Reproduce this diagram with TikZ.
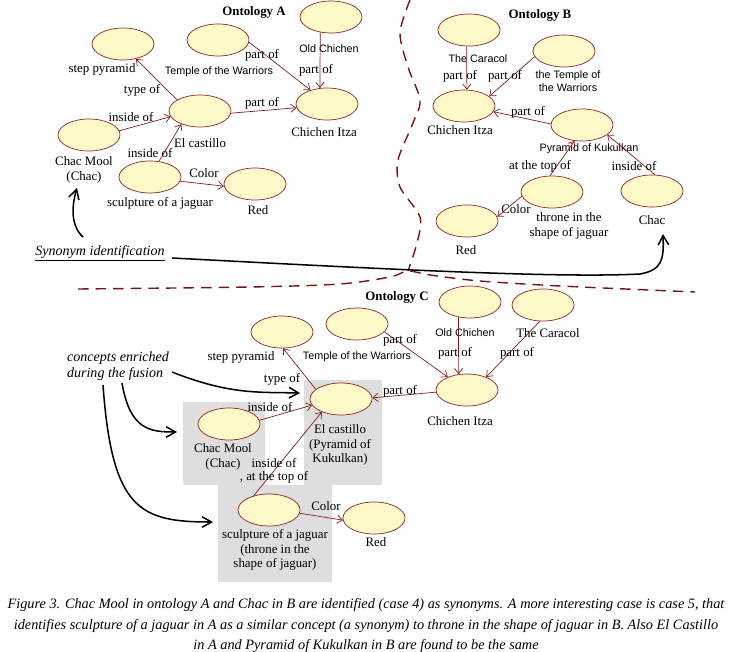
\documentclass[tikz,border=0pt]{standalone}
\usepackage{fontspec}
\setmainfont{Liberation Serif}
\newfontfamily\arialfont{Liberation Sans}
\usetikzlibrary{shapes.geometric,arrows.meta}
\definecolor{ellfill}{RGB}{255,248,200}
\definecolor{ellline}{RGB}{140,40,40}
\definecolor{relline}{RGB}{128,30,30}
\definecolor{sepline}{RGB}{120,20,20}
\definecolor{boxgrey}{RGB}{222,222,222}

\begin{document}
\begin{tikzpicture}[x=0.03cm,y=-0.03cm,
  concept/.style={ellipse,draw=ellline,fill=ellfill,line width=0.6pt,minimum width=1.86cm,minimum height=0.96cm,inner sep=0pt},
  lbl/.style={font=\fontsize{11}{12.5}\selectfont,align=center,inner sep=0pt},
  albl/.style={font=\arialfont\fontsize{9.2}{11}\selectfont,align=center,inner sep=0pt},
  title/.style={font=\fontsize{11}{12}\selectfont\bfseries,inner sep=0pt},
  note/.style={font=\fontsize{12}{14}\selectfont\itshape,align=left,inner sep=0pt},
  rel/.style={draw=relline,line width=0.6pt,-{Straight Barb[length=4.5pt,width=7pt]}},
  hand/.style={draw=black,line width=1.3pt,-{Straight Barb[length=8pt,width=9pt]}},
  sep/.style={draw=sepline,line width=1.2pt,dash pattern=on 9pt off 6pt},
  greybox/.style={fill=boxgrey,draw=none}]
\useasboundingbox (0,0) rectangle (731,652);

% grey boxes of the merged concepts
\fill[boxgrey] (304,380) rectangle (382,485);
\fill[boxgrey] (183,402) rectangle (265,485);
\fill[boxgrey] (218,485) rectangle (332,582);

% separators
\draw[sep] plot[smooth] coordinates {(410,0) (400,33) (408,67) (420,100) (413,123) (398,160) (400,187) (420,217) (417,243) (408,271)};
\draw[sep] plot[smooth] coordinates {(78,289) (250,287) (340,284) (390,277) (408,271) (430,275) (480,281) (560,286) (695,292)};

% Ontology A
\node[title] (ontA) at (254,12) {Ontology A};
\node[concept] (oldA) at (331,17) {};
\node[concept] (templA) at (218,40) {};
\node[concept] (stepA) at (123,44) {};
\node[concept] (castA) at (200,111) {};
\node[concept] (chiA) at (327,104) {};
\node[concept] (chacA) at (89,135) {};
\node[concept] (sculA) at (150,177) {};
\node[concept] (redA) at (255,184) {};
\node[albl] (oldAt) at (329,49) {Old Chichen};
\node[albl] (templAt) at (219,72) {Temple of the Warriors};
\node[lbl] (stepAt) at (102,69) {step pyramid};
\node[lbl] (castAt) at (200,143) {El castillo};
\node[lbl] (chiAt) at (324,132) {Chichen Itza};
\node[lbl] (chacAt) at (84,170) {Chac Mool\\(Chac)};
\node[lbl] (sculAt) at (160,203) {sculpture of a jaguar};
\node[lbl] (redAt) at (258,210) {Red};

\draw[rel] (castA.154) -- (stepA.-49);
\draw[rel] (chacA.8) -- (castA.191);
\draw[rel] (sculA.60) -- (castA.215);
\draw[rel] (castA.-4) -- (chiA.187);
\draw[rel] (templA.-4) -- (chiA.140);
\draw[rel] (oldA.235) -- (chiA.114);
\draw[rel] (sculA.-8) -- (redA.184);
\node[lbl] (typeA) at (142,90) {type of};
\node[lbl] (insA) at (131,117) {inside of};
\node[lbl] (insA2) at (150,153) {inside of};
\node[lbl] (partA) at (262,103) {part of};
\node[lbl] (partA2) at (262,55) {part of};
\node[lbl] (partA3) at (316,70) {part of};
\node[lbl] (colA) at (204,173) {Color};

% Ontology B
\node[title] (ontB) at (540,15) {Ontology B};
\node[concept] (carB) at (469,30) {};
\node[concept] (templB) at (564,51) {};
\node[concept] (chiB) at (464,106) {};
\node[concept] (pyrB) at (582,125) {};
\node[concept] (throB) at (552,192) {};
\node[concept] (chacB) at (652,191) {};
\node[concept] (redB) at (467,221) {};
\node[albl] (carBt) at (478,59) {The Caracol};
\node[albl] (templBt) at (568,81) {the Temple of\\the Warriors};
\node[lbl] (chiBt) at (460,130) {Chichen Itza};
\node[albl] (pyrBt) at (589,149) {Pyramid of Kukulkan};
\node[lbl] (throBt) at (569,226) {throne in the\\shape of jaguar};
\node[lbl] (chacBt) at (652,220) {Chac};
\node[lbl] (redBt) at (466,250) {Red};

\draw[rel] (carB.262) -- (chiB.80);
\draw[rel] (templB.191) -- (chiB.21);
\draw[rel] (pyrB.178) -- (chiB.-11);
\draw[rel] (throB.97) -- (pyrB.245);
\draw[rel] (chacB.80) -- (pyrB.-21);
\draw[rel] (throB.188) -- (redB.8);
\node[lbl] (partB) at (460,76) {part of};
\node[lbl] (partB2) at (505,76) {part of};
\node[lbl] (partB3) at (528,112) {part of};
\node[lbl] (topB) at (540,166) {at the top of};
\node[lbl] (insB) at (634,166) {inside of};
\node[lbl] (colB) at (516,209) {Color};

% Ontology C
\node[title] (ontC) at (397,297) {Ontology C};
\node[concept] (oldC) at (470,302) {};
\node[concept] (carC) at (543,305) {};
\node[concept] (templC) at (357,324) {};
\node[concept] (stepC) at (282,332) {};
\node[concept] (chiC) at (467,390) {};
\node[concept] (castC) at (341,399) {};
\node[concept] (chacC) at (229,424) {};
\node[concept] (sculC) at (269,510) {};
\node[concept] (redC) at (374,518) {};
\node[albl] (oldCt) at (465,333) {Old Chichen};
\node[lbl] (carCt) at (548,333) {The Caracol};
\node[albl] (templCt) at (357,357) {Temple of the Warriors};
\node[lbl] (stepCt) at (241,357) {step pyramid};
\node[lbl] (chiCt) at (460,421) {Chichen Itza};
\node[lbl] (castCt) at (340,445) {El castillo\\(Pyramid of\\Kukulkan)};
\node[lbl] (chacCt) at (223,457) {Chac Mool\\(Chac)};
\node[lbl] (sculCt) at (275,550) {sculpture of a jaguar\\(throne in the\\shape of jaguar)};
\node[lbl] (redCt) at (376,542) {Red};

\draw[rel] (castC.159) -- (stepC.-86);
\draw[rel] (chacC.7) -- (castC.192);
\draw[rel] (sculC.137) -- (castC.214);
\draw[rel] (chiC.184) -- (castC.2);
\draw[rel] (templC.-16) -- (chiC.146);
\draw[rel] (oldC.233) -- (chiC.118);
\draw[rel] (carC.259) -- (chiC.34);
\draw[rel] (sculC.-6) -- (redC.184);
\node[lbl] (typeC) at (282,379) {type of};
\node[lbl] (insC) at (270,407) {inside of};
\node[lbl,font=\fontsize{11}{11}\selectfont] (insC2) at (274,471) {inside of\\, at the top of};
\node[lbl] (partC) at (400,391) {part of};
\node[lbl] (partC2) at (400,340) {part of};
\node[lbl] (partC3) at (455,353) {part of};
\node[lbl] (partC4) at (517,353) {part of};
\node[lbl] (colC) at (326,506) {Color};

% hand drawn notes
\node[note] (fusion) at (118,366) {concepts enriched\\during the fusion};
\draw[hand] (172,372) .. controls (230,395) and (260,392) .. (300,393);
\draw[hand] (122,383) .. controls (130,430) and (150,432) .. (177,432);
\draw[hand] (103,385) .. controls (112,510) and (140,522) .. (213,522);

\node[note] (syn) at (100,253) {\underline{Synonym identification}};
\coordinate (synA) at (77,188);
\coordinate (synB) at (663,234);
\draw[hand] (83,237) .. controls (70,225) and (72,205) .. (synA);
\draw[hand] (172,258) .. controls (400,270) and (560,278) .. (640,274) .. controls (662,270) and (664,260) .. (synB);

% caption
\node[font=\fontsize{12.2}{17.5}\selectfont\itshape,align=center,inner sep=0pt] (caption) at (366,626)
  {Figure 3. Chac Mool in ontology A and Chac in B are identified (case 4) as synonyms. A more interesting case is case 5, that\\
   identifies sculpture of a jaguar in A as a similar concept (a synonym) to throne in the shape of jaguar in B. Also El Castillo\\
   in A and Pyramid of Kukulkan in B are found to be the same};
\end{tikzpicture}
\end{document}
